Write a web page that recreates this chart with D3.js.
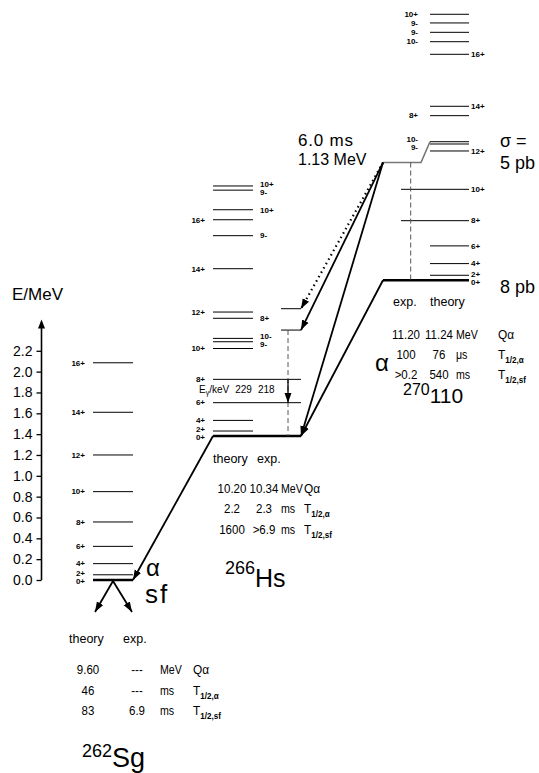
<!DOCTYPE html>
<html lang="en">
<head>
<meta charset="UTF-8">
<title>Decay scheme 270110 - 266Hs - 262Sg</title>
<script src="https://cdn.jsdelivr.net/npm/d3@7"></script>
<style>
  body { margin: 0; background: #fff; }
  svg { display: block; font-family: "Liberation Sans", Arial, sans-serif; }
</style>
</head>
<body>
<div id="chart"></div>
<script>
// energy axis (MeV)
const energyTicks = [0.0, 0.2, 0.4, 0.6, 0.8, 1.0, 1.2, 1.4, 1.6, 1.8, 2.0, 2.2];

// levels, E in MeV above each nucleus' ground state
const sgLevels = [
  {spin: "0+", E: 0, band: "gsb"},
  {spin: "2+", E: 0.05, band: "gsb"},
  {spin: "4+", E: 0.157, band: "gsb"},
  {spin: "6+", E: 0.323, band: "gsb"},
  {spin: "8+", E: 0.557, band: "gsb"},
  {spin: "10+", E: 0.848, band: "gsb"},
  {spin: "12+", E: 1.2, band: "gsb"},
  {spin: "14+", E: 1.61, band: "gsb"},
  {spin: "16+", E: 2.085, band: "gsb"}
];
const hsLevels = [
  {spin: "0+", E: 0, band: "gsb"},
  {spin: "2+", E: 0.048, band: "gsb"},
  {spin: "4+", E: 0.15, band: "gsb"},
  {spin: "6+", E: 0.32, band: "obs"},
  {spin: "8+", E: 0.544, band: "obs"},
  {spin: "10+", E: 0.84, band: "gsb"},
  {spin: "9-", E: 0.905, band: "kpi"},
  {spin: "10-", E: 0.937, band: "kpi"},
  {spin: "8+", E: 1.13, band: "kpi"},
  {spin: "12+", E: 1.19, band: "gsb"},
  {spin: "14+", E: 1.606, band: "gsb"},
  {spin: "9-", E: 1.923, band: "kpi"},
  {spin: "16+", E: 2.076, band: "gsb"},
  {spin: "10+", E: 2.172, band: "kpi"},
  {spin: "9-", E: 2.36, band: "kpi"},
  {spin: "10+", E: 2.4, band: "kpi"},
  {spin: "", E: 1.017, band: "feed"},
  {spin: "", E: 1.222, band: "feed"}
];
const dsLevels = [
  {spin: "0+", E: 0, band: "gsb"},
  {spin: "2+", E: 0.048, band: "gsb"},
  {spin: "4+", E: 0.16, band: "gsb"},
  {spin: "6+", E: 0.33, band: "gsb"},
  {spin: "8+", E: 0.572, band: "obs"},
  {spin: "10+", E: 0.873, band: "obs"},
  {spin: "12+", E: 1.241, band: "gsb"},
  {spin: "9-", E: 1.308, band: "kpi"},
  {spin: "10-", E: 1.33, band: "kpi"},
  {spin: "8+", E: 1.58, band: "kpi"},
  {spin: "14+", E: 1.67, band: "gsb"},
  {spin: "16+", E: 2.169, band: "gsb"},
  {spin: "10-", E: 2.29, band: "kpi"},
  {spin: "9-", E: 2.38, band: "kpi"},
  {spin: "9-", E: 2.47, band: "kpi"},
  {spin: "10+", E: 2.553, band: "kpi"}
];

// isomer in 270110
const isomerE = 1.13;
const isomerText = ["6.0 ms", "1.13 MeV"];
const isomerBandE = 1.33;
const sigmaText = ["\u03c3 =", "5 pb", "8 pb"];

// alpha decays: parent level -> daughter level
const decays = [
  {from: "Ds", fromE: 0, to: "Hs", toE: 0, dotted: false},
  {from: "Ds", fromE: 1.13, to: "Hs", toE: 0, dotted: false},
  {from: "Ds", fromE: 1.13, to: "Hs", toE: 1.017, dotted: false},
  {from: "Ds", fromE: 1.13, to: "Hs", toE: 1.222, dotted: true},
  {from: "Hs", fromE: 0, to: "Sg", toE: 0, dotted: false}
];

// gamma 8+ -> 6+ in 266Hs (keV)
const gammaFrom = 0.544, gammaTo = 0.32;
const gammaTheory = 229, gammaExp = 218;

// decay properties
const quantities = ["Q\u03b1", "T", "T"];
const quantitySub = ["", "1/2,\u03b1", "1/2,sf"];
const sgTheory = ["9.60", "46", "83"];
const sgExp = ["---", "---", "6.9"];
const sgUnits = ["MeV", "ms", "ms"];
const hsTheory = ["10.20", "2.2", "1600"];
const hsExp = ["10.34", "2.3", ">6.9"];
const hsUnits = ["MeV", "ms", "ms"];
const dsExp = ["11.20", "100", ">0.2"];
const dsTheory = ["11.24", "76", "540"];
const dsUnits = ["MeV", "\u03bcs", "ms"];

// ---------------------------------------------------------------
const svg = d3.select("#chart").append("svg")
  .attr("width", 539).attr("height", 773);

const y = d3.scaleLinear().domain([0, 2.2]).range([580, 350.8]);

// where each nucleus sits on the page
const layout = {
  Sg: {base: 0, gs: [93, 133], lx: {left: 85, right: 0},
       bands: {gsb: {x: [93, 133], side: "left"}}},
  Hs: {base: 1.382, gs: [213, 301], lx: {left: 205, right: 260},
       bands: {gsb: {x: [213, 253], side: "left"}, obs: {x: [213, 301], side: "left"},
               kpi: {x: [213, 253], side: "right"}, feed: {x: [281, 301], side: "none"}}},
  Ds: {base: 2.877, gs: [383, 469], lx: {left: 418, right: 471},
       bands: {gsb: {x: [430, 469], side: "right"}, obs: {x: [401, 469], side: "right"},
               kpi: {x: [430, 469], side: "left"}}}
};

svg.append("defs").append("marker")
  .attr("id", "head").attr("viewBox", "0 -4 10 8")
  .attr("refX", 10).attr("refY", 0)
  .attr("markerWidth", 10).attr("markerHeight", 8)
  .attr("markerUnits", "userSpaceOnUse").attr("orient", "auto")
  .append("path").attr("d", "M0,-3.6L10,0L0,3.6Z").attr("fill", "#000");

// energy axis
const axisX = 41.5;
const axis = svg.append("g")
  .attr("transform", `translate(${axisX},0)`)
  .call(d3.axisLeft(y).tickValues(energyTicks).tickFormat(d3.format(".1f")).tickSize(5).tickPadding(4));
axis.select(".domain").remove();
axis.attr("font-family", null).attr("font-size", 14);
axis.selectAll("line").attr("stroke-width", 1.3);
svg.append("line")
  .attr("x1", axisX).attr("x2", axisX).attr("y1", y(0)).attr("y2", y(2.45))
  .attr("stroke", "#000").attr("stroke-width", 1.6);
svg.append("path")
  .attr("d", `M${axisX - 3.5},${y(2.5) + 9}L${axisX},${y(2.5)}L${axisX + 3.5},${y(2.5) + 9}Z`);
svg.append("text").attr("x", 12).attr("y", 300).attr("font-size", 17).text("E/MeV");

// spread close spin labels apart
function spread(list, gap) {
  list.sort((a, b) => a.y - b.y);
  for (let k = 0; k < 20; k++) {
    for (let i = 0; i < list.length - 1; i++) {
      const d = list[i + 1].y - list[i].y;
      if (d < gap) {
        list[i].y -= (gap - d) / 2;
        list[i + 1].y += (gap - d) / 2;
      }
    }
  }
  return list;
}

function drawNucleus(key, levels) {
  const L = layout[key];
  const g = svg.append("g");
  const labels = {left: [], right: []};
  levels.forEach(d => {
    const b = L.bands[d.band];
    const yy = y(L.base + d.E);
    const gs = d.E === 0;
    const xs = gs ? L.gs : b.x;
    g.append("line")
      .attr("x1", xs[0]).attr("x2", xs[1]).attr("y1", yy).attr("y2", yy)
      .attr("stroke", "#000").attr("stroke-width", gs ? 2.4 : 1);
    if (b.side !== "none") labels[b.side].push({text: d.spin, y: yy});
  });
  ["left", "right"].forEach(side => {
    g.selectAll(null).data(spread(labels[side], 8)).join("text")
      .attr("x", L.lx[side])
      .attr("y", d => d.y)
      .attr("dy", "0.35em")
      .attr("text-anchor", side === "left" ? "end" : "start")
      .attr("font-size", 8).attr("font-weight", "bold")
      .text(d => d.text);
  });
}
drawNucleus("Sg", sgLevels);
drawNucleus("Hs", hsLevels);
drawNucleus("Ds", dsLevels);

// isomer in 270110
const Ds = layout.Ds, Hs = layout.Hs, Sg = layout.Sg;
const isoY = y(Ds.base + isomerE);
svg.append("path")
  .attr("d", `M${Ds.gs[0]},${isoY}L421,${isoY}L${Ds.bands.kpi.x[0]},${y(Ds.base + isomerBandE)}`)
  .attr("fill", "none").attr("stroke", "#777").attr("stroke-width", 1.6);
svg.append("line")
  .attr("x1", 410.7).attr("x2", 410.7).attr("y1", isoY).attr("y2", y(Ds.base))
  .attr("stroke", "#555").attr("stroke-dasharray", "5,3");

svg.append("text").attr("x", 298).attr("y", 146).attr("font-size", 17)
  .attr("letter-spacing", 0.8).text(isomerText[0]);
svg.append("text").attr("x", 298).attr("y", 165).attr("font-size", 16).text(isomerText[1]);
svg.append("text").attr("x", 500).attr("y", 147).attr("font-size", 18).text(sigmaText[0]);
svg.append("text").attr("x", 500).attr("y", 169).attr("font-size", 18).text(sigmaText[1]);
svg.append("text").attr("x", 500).attr("y", 293).attr("font-size", 18).text(sigmaText[2]);

// alpha decay arrows
decays.forEach(d => {
  const P = layout[d.from], D = layout[d.to];
  svg.append("line")
    .attr("x1", P.gs[0]).attr("y1", y(P.base + d.fromE))
    .attr("x2", D.gs[1]).attr("y2", y(D.base + d.toE))
    .attr("stroke", "#000")
    .attr("stroke-width", d.dotted ? 2.2 : 1.8)
    .attr("stroke-dasharray", d.dotted ? "1.5,3.5" : null)
    .attr("marker-end", "url(#head)");
});
svg.append("text").attr("x", 146).attr("y", 576).attr("font-size", 24).text("\u03b1");
svg.append("text").attr("x", 375).attr("y", 371).attr("font-size", 24).text("\u03b1");

// gamma transition in 266Hs
svg.append("line")
  .attr("x1", 288).attr("x2", 288).attr("y1", y(Hs.base + 1.017)).attr("y2", y(Hs.base))
  .attr("stroke", "#555").attr("stroke-dasharray", "5,3");
svg.append("line")
  .attr("x1", 288).attr("x2", 288).attr("y1", y(Hs.base + gammaFrom)).attr("y2", y(Hs.base + gammaTo))
  .attr("stroke", "#000").attr("stroke-width", 1.3).attr("marker-end", "url(#head)");
const eg = svg.append("text").attr("x", 199).attr("y", 393).attr("font-size", 10);
eg.append("tspan").text("E");
eg.append("tspan").attr("font-size", 7).attr("dy", 2).text("\u03b3");
eg.append("tspan").attr("dy", -2).text("/keV");
eg.append("tspan").attr("dx", 6).text(gammaTheory);
eg.append("tspan").attr("dx", 6).text(gammaExp);

// fission of 262Sg
const sfY = y(Sg.base);
[[95, 612], [132, 612]].forEach(p => {
  svg.append("line")
    .attr("x1", 113).attr("y1", sfY + 1).attr("x2", p[0]).attr("y2", p[1])
    .attr("stroke", "#000").attr("stroke-width", 1.8).attr("marker-end", "url(#head)");
});
svg.append("text").attr("x", 145).attr("y", 603).attr("font-size", 26)
  .attr("letter-spacing", 2).text("sf");

// property tables
function cell(g, x, yb, str, anchor, sx) {
  return g.append("text")
    .attr("transform", `translate(${x},${yb}) scale(${sx},1)`)
    .attr("text-anchor", anchor).text(str);
}
function table(o) {
  const g = svg.append("g").attr("font-size", 12.5);
  cell(g, o.hx[0], o.hy, o.heads[0], "start", 1);
  cell(g, o.hx[1], o.hy, o.heads[1], "start", 1);
  o.rows.forEach((ry, i) => {
    cell(g, o.cx[0], ry, o.c1[i], "middle", 0.92);
    cell(g, o.cx[1], ry, o.c2[i], "middle", 0.92);
    cell(g, o.ux, ry, o.units[i], "start", 0.85);
    const q = cell(g, o.qx, ry, quantities[i], "start", 0.95);
    if (quantitySub[i]) {
      q.append("tspan").attr("dy", 4).attr("font-size", 8.5).attr("font-weight", "bold").text(quantitySub[i]);
    }
  });
}
table({heads: ["theory", "exp."], hx: [69, 123], hy: 643, rows: [674, 695, 715],
       cx: [88, 137], c1: sgTheory, c2: sgExp, units: sgUnits, ux: 160, qx: 193});
table({heads: ["theory", "exp."], hx: [213, 257], hy: 463, rows: [493, 513, 534],
       cx: [232, 264], c1: hsTheory, c2: hsExp, units: hsUnits, ux: 281, qx: 304});
table({heads: ["exp.", "theory"], hx: [393, 430], hy: 306, rows: [339, 359, 379],
       cx: [406, 439], c1: dsExp, c2: dsTheory, units: dsUnits, ux: 456, qx: 498});

// nuclide names
function nuclide(x, yb, mass, name, sMass, sName, lift) {
  const t = svg.append("text").attr("x", x).attr("y", yb);
  t.append("tspan").attr("font-size", sMass).attr("dy", -lift).text(mass);
  t.append("tspan").attr("font-size", sName).attr("dy", lift).text(name);
}
nuclide(82, 767, "262", "Sg", 18, 27, 10);
nuclide(225, 587, "266", "Hs", 18, 25, 13);
nuclide(403, 403, "270", "110", 16, 21, 8);
</script>
</body>
</html>
